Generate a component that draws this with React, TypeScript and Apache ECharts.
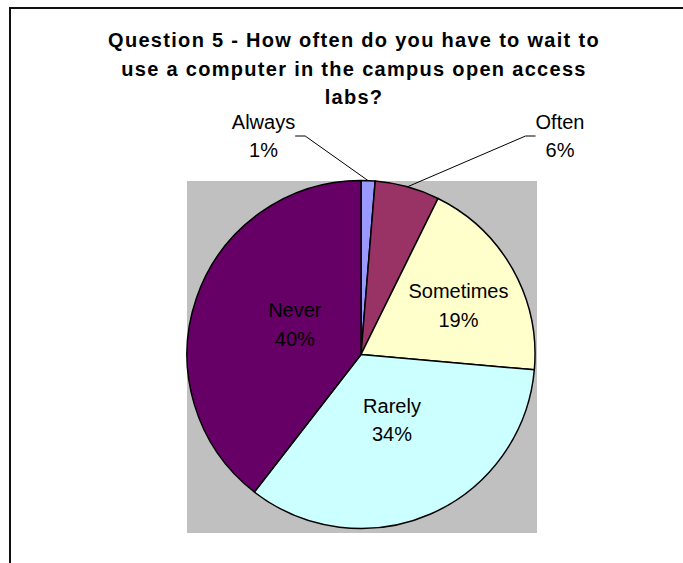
import React, { useEffect, useRef } from 'react';
import * as echarts from 'echarts';

const categories = ['Always', 'Often', 'Sometimes', 'Rarely', 'Never'];
const values = [1.3, 6.0, 19.1, 34.1, 39.5];
const colors = ['#9999FF', '#993366', '#FFFFCC', '#CCFFFF', '#660066'];
const titleLines = [
  'Question 5 - How often do you have to wait to',
  'use a computer in the campus open access',
  'labs?',
];

const FONT = 'Arial, "Liberation Sans", sans-serif';

export default function App() {
  const ref = useRef<HTMLDivElement>(null);
  useEffect(() => {
    const chart = echarts.init(ref.current!, null, { renderer: 'svg' });
    chart.setOption({
      animation: false,
      backgroundColor: '#ffffff',
      title: {
        text: titleLines.join('\n'),
        left: 354,
        top: 26,
        textAlign: 'center',
        padding: 0,
        textStyle: {
          fontFamily: FONT,
          fontSize: 20,
          fontWeight: 'bold',
          color: '#000',
          lineHeight: 28.5,
        },
      },
      graphic: [
        {
          type: 'rect',
          z: -10,
          silent: true,
          shape: { x: 10, y: 8, width: 720, height: 620 },
          style: { fill: 'none', stroke: '#111', lineWidth: 2 },
        },
        {
          type: 'rect',
          z: -5,
          silent: true,
          shape: { x: 187, y: 181, width: 350, height: 352 },
          style: { fill: '#C0C0C0' },
        },
      ],
      series: [
        {
          type: 'pie',
          center: [361, 354.5],
          radius: 174,
          startAngle: 90,
          clockwise: true,
          percentPrecision: 0,
          avoidLabelOverlap: false,
          itemStyle: { borderColor: '#000', borderWidth: 1.5 },
          label: {
            position: 'inside',
            formatter: '{b}\n{d}%',
            fontFamily: FONT,
            fontSize: 20,
            lineHeight: 28.5,
            color: '#000',
          },
          labelLine: { show: true, lineStyle: { color: '#000', width: 1 } },
          labelLayout: (p: any) => {
            const i = p.dataIndex;
            if (i === 0) return { x: 263.5, y: 136, align: 'center', verticalAlign: 'middle' };
            if (i === 1) return { x: 560, y: 136, align: 'center', verticalAlign: 'middle' };
            if (i === 2) return { dx: 19, dy: -5 };
            if (i === 3) return { dx: -5, dy: -17 };
            return { dx: 19, dy: -1 };
          },
          data: categories.map((name, i) => ({
            name,
            value: values[i],
            itemStyle: { color: colors[i] },
            label: i < 2 ? { position: 'outside' } : undefined,
            labelLine: i < 2 ? { show: true, length: 20, length2: 10 } : { show: false },
          })),
        },
      ],
    });
    return () => chart.dispose();
  }, []);
  return (
    <>
      <style>{'#chart-root svg text[style*="bold"] { letter-spacing: 1.3px; }'}</style>
      <div
        id="chart-root"
        ref={ref}
        style={{ position: 'fixed', left: 0, top: 0, width: 683, height: 563 }}
      />
    </>
  );
}
